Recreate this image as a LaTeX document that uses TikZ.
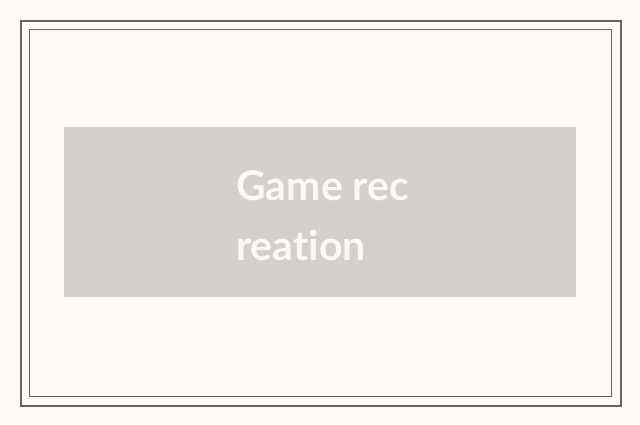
\documentclass[tikz,border=0pt]{standalone}
\usepackage{fontspec}
\setmainfont[Ligatures={NoCommon,NoRare}]{Lato}
\definecolor{bg}{HTML}{FFFAF7}
\definecolor{frame}{HTML}{666362}
\definecolor{panel}{HTML}{D3D0CD}
\definecolor{txt}{HTML}{FBF9F7}
\tikzset{
  outerframe/.style={draw=frame, line width=2pt},
  innerframe/.style={draw=frame, line width=1pt},
  panelbox/.style={fill=panel, draw=none},
  title/.style={text=txt, font=\fontsize{41}{60}\selectfont\bfseries, align=left, inner sep=0pt, anchor=base west}
}
\begin{document}
\begin{tikzpicture}[x=1pt,y=-1pt]
\fill[bg] (0,0) rectangle (640,425);
\useasboundingbox (0,0) rectangle (640,425);
\draw[outerframe] (21,21) rectangle (621,406);
\draw[innerframe] (29.5,29.5) rectangle (611.5,396.5);
\node[panelbox, minimum width=512pt, minimum height=170pt, anchor=north west, inner sep=0pt] (panel) at (64,127) {};
\node[title] (label) at (236,260) {Game rec\\reation};
\end{tikzpicture}
\end{document}
